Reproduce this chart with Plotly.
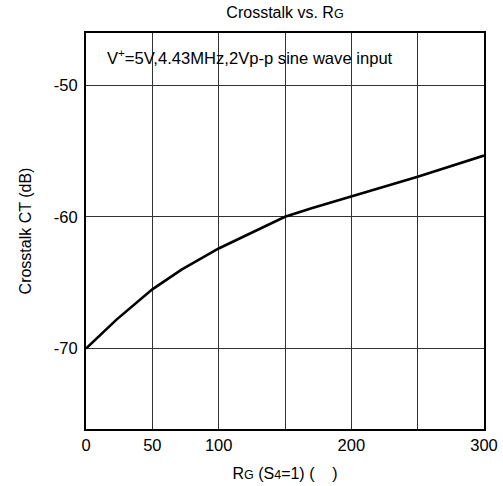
import plotly.graph_objects as go

# Data
rg_ohm = [0, 23, 50, 72, 100, 150, 170, 200, 250, 300]
crosstalk_db = [-70.0, -67.8, -65.5, -64.0, -62.4, -60.0, -59.35, -58.45, -56.95, -55.35]

x_tickvals = [0, 50, 100, 200, 300]
x_ticktext = ["0", "50", "100", "200", "300"]
x_unlabeled_grid = [150, 250]
y_tickvals = [-50, -60, -70]
y_ticktext = ["-50", "-60", "-70"]

FONT = "Liberation Sans, Arial, sans-serif"

fig = go.Figure()
fig.add_trace(go.Scatter(
    x=rg_ohm, y=crosstalk_db, mode="lines",
    line=dict(color="black", width=2.6),
    showlegend=False, hoverinfo="skip",
))

fig.update_layout(
    width=503, height=486,
    margin=dict(l=86, r=19, t=33, b=57, autoexpand=False),
    paper_bgcolor="white", plot_bgcolor="white",
    font=dict(family=FONT, size=16.5, color="black"),
    title=dict(
        text="Crosstalk vs. R<span style='font-size:12.5px'>G</span>",
        x=(86 + 484) / 2 / 503, xanchor="center",
        y=1 - 12.5 / 486, yanchor="middle",
        font=dict(size=16, family=FONT, color="black"),
    ),
    xaxis=dict(
        range=[0, 300], automargin=False,
        tickvals=x_tickvals, ticktext=x_ticktext,
        showgrid=True, gridcolor="#333333", gridwidth=1,
        minor=dict(tickvals=x_unlabeled_grid, showgrid=True,
                   gridcolor="#333333", gridwidth=1, ticks=""),
        showline=True, linecolor="black", linewidth=2, mirror=True,
        ticks="", zeroline=False,
        ticklabelstandoff=0,
        title=dict(
            text="R<span style='font-size:12.5px'>G</span> (S<span style='font-size:12.5px'>4</span>=1) (    )",
            font=dict(size=16, family=FONT), standoff=15,
        ),
    ),
    yaxis=dict(
        range=[-76.1, -46.05], automargin=False,
        tickvals=y_tickvals, ticktext=y_ticktext,
        showgrid=True, gridcolor="#333333", gridwidth=1,
        showline=True, linecolor="black", linewidth=2, mirror=True,
        ticks="", zeroline=False,
        ticklabelstandoff=3,
        title=dict(text="Crosstalk CT (dB)", font=dict(size=16, family=FONT), standoff=18),
    ),
    shapes=[dict(
        type="rect", xref="paper", yref="paper",
        x0=0.003, x1=0.822, y0=0.891, y1=0.982,
        fillcolor="white", line=dict(width=0), layer="between",
    )],
    annotations=[dict(
        text="V<sup>+</sup>=5V,4.43MHz,2Vp-p sine wave input",
        xref="paper", yref="paper",
        x=(249.5 - 86) / 398, y=(429 - 57) / 396,
        xanchor="center", yanchor="middle",
        showarrow=False, font=dict(size=16.6, family=FONT, color="black"),
    )],
)

fig.write_html(
    "out.html",
    config={"displayModeBar": False},
    post_script="document.body.style.margin='0';document.body.style.padding='0';document.body.style.overflow='hidden';",
)
